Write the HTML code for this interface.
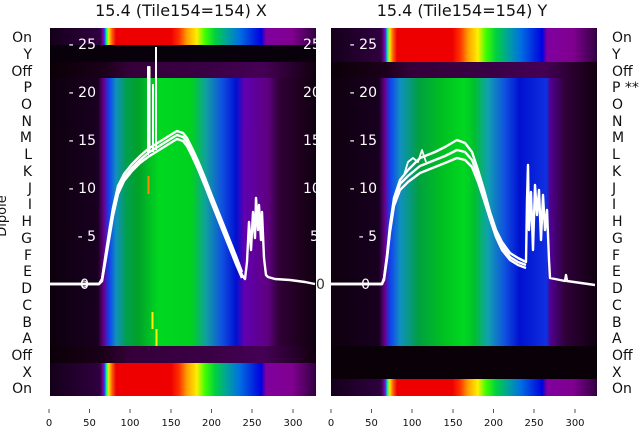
<!DOCTYPE html>
<html><head><meta charset="utf-8"><style>
body{margin:0;background:#fff;width:640px;height:440px;overflow:hidden}
svg{display:block;font-family:"DejaVu Sans","Liberation Sans",sans-serif}
</style></head><body>
<svg width="640" height="440" viewBox="0 0 640 440" xmlns="http://www.w3.org/2000/svg">
<defs>
<linearGradient id="gG" x1="0" x2="1" y1="0" y2="0">
<stop offset="0" stop-color="#0e000e"/><stop offset="0.18" stop-color="#180020"/>
<stop offset="0.203" stop-color="#6a0090"/><stop offset="0.222" stop-color="#1040f0"/>
<stop offset="0.248" stop-color="#1090c0"/><stop offset="0.286" stop-color="#00a050"/>
<stop offset="0.33" stop-color="#00a028"/><stop offset="0.41" stop-color="#00d820"/>
<stop offset="0.534" stop-color="#00d020"/><stop offset="0.586" stop-color="#10a0a0"/>
<stop offset="0.647" stop-color="#1050e0"/><stop offset="0.70" stop-color="#0010d0"/>
<stop offset="0.73" stop-color="#6000b0"/><stop offset="0.82" stop-color="#600080"/>
<stop offset="0.86" stop-color="#300038"/><stop offset="0.93" stop-color="#200020"/>
<stop offset="1" stop-color="#100010"/>
</linearGradient>
<linearGradient id="gG2" x1="0" x2="1" y1="0" y2="0">
<stop offset="0" stop-color="#0e000e"/><stop offset="0.18" stop-color="#180020"/>
<stop offset="0.203" stop-color="#6a0090"/><stop offset="0.222" stop-color="#1040f0"/>
<stop offset="0.26" stop-color="#1090c0"/><stop offset="0.33" stop-color="#00a040"/>
<stop offset="0.42" stop-color="#00c020"/><stop offset="0.5" stop-color="#00d820"/>
<stop offset="0.54" stop-color="#00c030"/><stop offset="0.59" stop-color="#10a0b0"/>
<stop offset="0.654" stop-color="#1050e0"/><stop offset="0.71" stop-color="#0010d0"/>
<stop offset="0.81" stop-color="#1030e0"/><stop offset="0.825" stop-color="#500090"/>
<stop offset="0.88" stop-color="#300038"/><stop offset="1" stop-color="#100010"/>
</linearGradient>
<linearGradient id="gB" x1="0" x2="1" y1="0" y2="0">
<stop offset="0" stop-color="#14001a"/><stop offset="0.188" stop-color="#300040"/>
<stop offset="0.2" stop-color="#8000a0"/><stop offset="0.206" stop-color="#2050ff"/>
<stop offset="0.212" stop-color="#00ff80"/><stop offset="0.221" stop-color="#ffe000"/>
<stop offset="0.233" stop-color="#ff6000"/><stop offset="0.248" stop-color="#ee0000"/>
<stop offset="0.455" stop-color="#ee0000"/><stop offset="0.485" stop-color="#ff3000"/>
<stop offset="0.515" stop-color="#ffa000"/><stop offset="0.552" stop-color="#ffee00"/>
<stop offset="0.582" stop-color="#40ff00"/><stop offset="0.621" stop-color="#00d040"/>
<stop offset="0.667" stop-color="#00a0a0"/><stop offset="0.712" stop-color="#0070e0"/>
<stop offset="0.794" stop-color="#0000e0"/><stop offset="0.812" stop-color="#8000a0"/>
<stop offset="0.91" stop-color="#800090"/><stop offset="1" stop-color="#300040"/>
</linearGradient>
<linearGradient id="gD" x1="0" x2="1" y1="0" y2="0">
<stop offset="0" stop-color="#0c0008"/><stop offset="0.2" stop-color="#1a0018"/>
<stop offset="0.3" stop-color="#35003a"/><stop offset="0.6" stop-color="#3a0045"/>
<stop offset="0.8" stop-color="#450055"/><stop offset="1" stop-color="#12000e"/>
</linearGradient>
</defs>

<g>
<rect x="50" y="28" width="266" height="368" fill="#0c0008"/>
<rect x="50" y="28" width="266" height="17" fill="url(#gB)"/>
<rect x="50" y="45" width="266" height="17" fill="#08000a"/>
<rect x="50" y="62" width="266" height="16" fill="url(#gD)"/>
<rect x="50" y="78" width="266" height="268" fill="url(#gG)"/>
<rect x="50" y="346" width="266" height="17" fill="url(#gD)"/>
<rect x="50" y="363" width="266" height="33" fill="url(#gB)"/>
<rect x="147.5" y="176" width="2" height="18" fill="#ff8800"/>
<rect x="151.5" y="312" width="2" height="17" fill="#ffee00"/>
<rect x="155.5" y="329" width="2" height="17" fill="#ffee00"/>
</g>
<g>
<rect x="331" y="28" width="266" height="368" fill="#0c0008"/>
<rect x="331" y="28" width="266" height="34" fill="url(#gB)"/>
<rect x="331" y="62" width="266" height="16" fill="url(#gD)"/>
<rect x="331" y="78" width="266" height="268" fill="url(#gG2)"/>
<rect x="331" y="346" width="266" height="33" fill="#0a0008"/>
<rect x="331" y="379" width="266" height="17" fill="url(#gB)"/>
</g>

<g fill="none" stroke="#fff" stroke-width="2.4" stroke-linejoin="round">
<polyline points="49,284 99,284 102,280 106,255 110,230 113,212 118,190 124,178 132,168 140,160 148,153 156,148 164,143 172,138 177,135 183,137 187,142 192,152 198,165 205,182 212,200 220,220 228,240 236,260 242,275 245,279 247,262 249,222 251,250 253,212 255,238 256,198 258,230 259,205 261,240 262,212 264,258 266,275 268,277 275,279 290,280 305,282 315,284"/>
<polyline points="49,284 99,284 102,279 106,252 110,226 113,208 118,186 124,174 132,164 140,156 148,149 156,144 164,139 172,134 177,131 183,133 187,138 192,148 198,161 205,178 212,196 220,216 228,236 236,256 242,272"/>
<polyline points="49,284 99,284 102,281 106,258 110,234 113,216 118,194 124,181 132,171 140,163 148,157 156,152 164,147 172,142 177,139 183,141 187,146 192,156 198,169 205,186 212,204 220,224 228,244 236,264 242,278"/>
<polyline points="148,155 148,67 149.5,67 149.5,153" stroke-width="2"/>
<polyline points="153,152 153,84" stroke-width="2"/>
<polyline points="156,150 156,47" stroke-width="2"/>
<circle cx="84" cy="284" r="3" stroke-width="1"/>
</g>

<g fill="none" stroke="#fff" stroke-width="2.4" stroke-linejoin="round">
<polyline points="331,284 382,284 384,278 387,255 390,225 394,198 400,180 408,170 420,158 435,152 445,147 457,140 465,143 472,152 478,170 484,190 490,212 496,230 502,242 510,253 518,258 526,262 527,200 528,165 529,230 531,192 533,250 535,185 537,215 539,190 541,240 543,195 545,230 547,210 549,260 550,278 560,280 565,281 566,275 567,281 595,285"/>
<polyline points="331,284 382,284 384,279 387,257 390,228 394,202 400,184 408,176 420,166 435,160 445,156 457,150 465,152 472,160 478,176 484,196 490,216 496,234 502,246 510,257 518,262 526,265"/>
<polyline points="331,284 382,284 384,280 387,259 390,232 394,206 400,190 408,182 420,173 435,167 445,163 457,158 465,160 472,167 478,182 484,200 490,219 496,237 502,250 510,260 518,265 526,268"/>
<polyline points="404,175 408,162 413,158 418,162 422,150 426,162" stroke-width="1.8"/>
</g>

<g fill="#fff" font-size="14">
<text x="96" y="49" text-anchor="end">- 25</text>
<text x="96" y="97" text-anchor="end">- 20</text>
<text x="96" y="145" text-anchor="end">- 15</text>
<text x="96" y="193" text-anchor="end">- 10</text>
<text x="96" y="241" text-anchor="end">- 5</text>
<text x="89" y="289" text-anchor="end">0</text>
<text x="303" y="49">25</text><text x="303" y="97">20</text><text x="303" y="145">15</text>
<text x="303" y="193">10</text><text x="310" y="241">5</text>
<text x="377" y="49" text-anchor="end">- 25</text>
<text x="377" y="97" text-anchor="end">- 20</text>
<text x="377" y="145" text-anchor="end">- 15</text>
<text x="377" y="193" text-anchor="end">- 10</text>
<text x="377" y="241" text-anchor="end">- 5</text>
<text x="370" y="289" text-anchor="end">0</text>
</g>
<rect x="316" y="28" width="15" height="370" fill="#fff"/>
<text x="316" y="289" font-size="14" fill="#333">0</text>

<g font-size="14" fill="#111" text-anchor="end">
<text x="32" y="42">On</text><text x="32" y="59">Y</text><text x="32" y="76">Off</text>
<text x="32" y="92">P</text><text x="32" y="109">O</text><text x="32" y="126">N</text>
<text x="32" y="142">M</text><text x="32" y="159">L</text><text x="32" y="176">K</text>
<text x="32" y="193">J</text><text x="32" y="209">I</text><text x="32" y="226">H</text>
<text x="32" y="243">G</text><text x="32" y="260">F</text><text x="32" y="276">E</text>
<text x="32" y="293">D</text><text x="32" y="310">C</text><text x="32" y="327">B</text>
<text x="32" y="343">A</text><text x="32" y="360">Off</text><text x="32" y="377">X</text>
<text x="32" y="393">On</text>
</g>
<g font-size="14" fill="#111">
<text x="612" y="42">On</text><text x="612" y="59">Y</text><text x="612" y="76">Off</text>
<text x="612" y="92">P **</text><text x="612" y="109">O</text><text x="612" y="126">N</text>
<text x="612" y="142">M</text><text x="612" y="159">L</text><text x="612" y="176">K</text>
<text x="612" y="193">J</text><text x="612" y="209">I</text><text x="612" y="226">H</text>
<text x="612" y="243">G</text><text x="612" y="260">F</text><text x="612" y="276">E</text>
<text x="612" y="293">D</text><text x="612" y="310">C</text><text x="612" y="327">B</text>
<text x="612" y="343">A</text><text x="612" y="360">Off</text><text x="612" y="377">X</text>
<text x="612" y="393">On</text>
</g>
<text transform="translate(6,216) rotate(-90)" font-size="13" fill="#111" text-anchor="middle">Dipole</text>

<text x="181" y="16" font-size="16" fill="#111" text-anchor="middle">15.4 (Tile154=154) X</text>
<text x="462" y="16" font-size="16" fill="#111" text-anchor="middle">15.4 (Tile154=154) Y</text>

<g stroke="#555" stroke-width="1">
<line x1="49" y1="409" x2="49" y2="413"/><line x1="89.5" y1="409" x2="89.5" y2="413"/>
<line x1="130" y1="409" x2="130" y2="413"/><line x1="171" y1="409" x2="171" y2="413"/>
<line x1="211.5" y1="409" x2="211.5" y2="413"/><line x1="252" y1="409" x2="252" y2="413"/>
<line x1="293" y1="409" x2="293" y2="413"/>
<line x1="331" y1="409" x2="331" y2="413"/><line x1="371.5" y1="409" x2="371.5" y2="413"/>
<line x1="412" y1="409" x2="412" y2="413"/><line x1="453" y1="409" x2="453" y2="413"/>
<line x1="493.5" y1="409" x2="493.5" y2="413"/><line x1="534" y1="409" x2="534" y2="413"/>
<line x1="575" y1="409" x2="575" y2="413"/>
</g>
<g font-size="10" fill="#111" text-anchor="middle">
<text x="49" y="426">0</text><text x="89.5" y="426">50</text><text x="130" y="426">100</text>
<text x="171" y="426">150</text><text x="211.5" y="426">200</text><text x="252" y="426">250</text>
<text x="293" y="426">300</text>
<text x="331" y="426">0</text><text x="371.5" y="426">50</text><text x="412" y="426">100</text>
<text x="453" y="426">150</text><text x="493.5" y="426">200</text><text x="534" y="426">250</text>
<text x="575" y="426">300</text>
</g>
</svg>
</body></html>
